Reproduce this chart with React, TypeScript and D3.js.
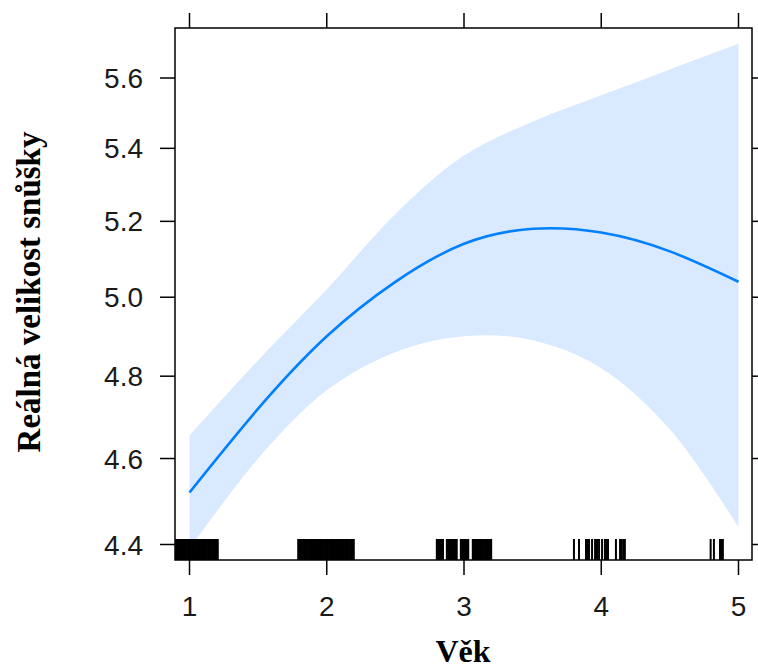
import React, { useEffect, useRef } from "react";
import * as d3 from "d3";

// effect of age on clutch size (fitted curve + confidence band)
const ages = [1, 1.5, 2, 2.5, 3, 3.5, 4, 4.5, 5];
const fit = [4.52, 4.72, 4.9, 5.04, 5.14, 5.18, 5.17, 5.12, 5.04];
const upper = [4.655, 4.84, 5.02, 5.22, 5.38, 5.475, 5.55, 5.625, 5.7];
const lower = [4.39, 4.6, 4.765, 4.86, 4.9, 4.89, 4.82, 4.67, 4.44];

// jittered ages for the rug
const rug1 = [
  0.893, 0.902, 0.911, 0.92, 0.929, 0.938, 0.947, 0.956, 0.965, 0.974, 0.983,
  0.992, 1.001, 1.01, 1.019, 1.028, 1.037, 1.046, 1.055, 1.064, 1.073, 1.082,
  1.091, 1.1, 1.109, 1.118, 1.127, 1.136, 1.145, 1.154, 1.163, 1.172, 1.181,
  1.19, 1.199, 1.206,
];
const rug2 = [
  1.792, 1.801, 1.81, 1.819, 1.828, 1.837, 1.846, 1.855, 1.864, 1.873, 1.882,
  1.891, 1.9, 1.909, 1.918, 1.927, 1.936, 1.945, 1.954, 1.963, 1.972, 1.981,
  1.99, 1.999, 2.008, 2.017, 2.026, 2.035, 2.044, 2.053, 2.062, 2.071, 2.08,
  2.089, 2.098, 2.107, 2.116, 2.125, 2.134, 2.143, 2.152, 2.161, 2.17, 2.179,
  2.188, 2.197,
];
const rug3 = [
  2.802, 2.811, 2.82, 2.829, 2.838, 2.847, 2.875, 2.884, 2.893, 2.902, 2.911,
  2.92, 2.929, 2.938, 2.947, 2.977, 2.986, 2.995, 3.004, 3.013, 3.022, 3.031,
  3.064, 3.073, 3.082, 3.091, 3.1, 3.109, 3.118, 3.127, 3.136, 3.145, 3.154,
  3.163, 3.172, 3.181, 3.19, 3.198,
];
const rug4 = [
  3.801, 3.838, 3.889, 3.9, 3.911, 3.933, 3.955, 3.969, 3.984, 4.006, 4.027,
  4.038, 4.049, 4.107, 4.137, 4.148, 4.16, 4.172,
];
const rug5 = [4.797, 4.821, 4.865, 4.876, 4.886];

const xTicks = [1, 2, 3, 4, 5];
const yTicks = [4.4, 4.6, 4.8, 5.0, 5.2, 5.4, 5.6];

const width = 758;
const height = 671;
const box = { left: 175, right: 752, top: 28, bottom: 560 };

export default function App() {
  const ref = useRef<SVGSVGElement>(null);

  useEffect(() => {
    const svg = d3.select(ref.current);
    svg.selectAll("*").remove();

    const x = d3.scaleLinear().domain([1, 5]).range([189.5, 738.5]);
    const y = d3.scaleLog().domain([4.4, 5.6]).range([544.5, 78]);

    svg
      .append("clipPath")
      .attr("id", "plotclip")
      .append("rect")
      .attr("x", box.left)
      .attr("y", box.top)
      .attr("width", box.right - box.left)
      .attr("height", box.bottom - box.top);

    const g = svg.append("g").attr("clip-path", "url(#plotclip)");

    const band = ages.map((a, i) => ({ a, lo: lower[i], hi: upper[i] }));
    g.append("path")
      .datum(band)
      .attr("fill", "#d9e9ff")
      .attr(
        "d",
        d3
          .area<any>()
          .x((d) => x(d.a))
          .y0((d) => y(d.lo))
          .y1((d) => y(d.hi))
          .curve(d3.curveCatmullRom)
      );

    g.append("path")
      .datum(ages.map((a, i) => [a, fit[i]] as [number, number]))
      .attr("fill", "none")
      .attr("stroke", "#0080ff")
      .attr("stroke-width", 2.6)
      .attr(
        "d",
        d3
          .line()
          .x((d) => x(d[0]))
          .y((d) => y(d[1]))
          .curve(d3.curveNatural)
      );

    const rug = [...rug1, ...rug2, ...rug3, ...rug4, ...rug5];
    g.selectAll("line.rug")
      .data(rug)
      .enter()
      .append("line")
      .attr("class", "rug")
      .attr("x1", (d) => x(d))
      .attr("x2", (d) => x(d))
      .attr("y1", box.bottom - 21)
      .attr("y2", box.bottom)
      .attr("stroke", "#000")
      .attr("stroke-width", 2);

    // box
    svg
      .append("rect")
      .attr("x", box.left)
      .attr("y", box.top)
      .attr("width", box.right - box.left)
      .attr("height", box.bottom - box.top)
      .attr("fill", "none")
      .attr("stroke", "#000")
      .attr("stroke-width", 1.5);

    const tick = 15;
    // x ticks top and bottom
    xTicks.forEach((t) => {
      svg
        .append("line")
        .attr("x1", x(t))
        .attr("x2", x(t))
        .attr("y1", box.bottom)
        .attr("y2", box.bottom + tick)
        .attr("stroke", "#000")
        .attr("stroke-width", 1.5);
      svg
        .append("line")
        .attr("x1", x(t))
        .attr("x2", x(t))
        .attr("y1", box.top)
        .attr("y2", box.top - tick)
        .attr("stroke", "#000")
        .attr("stroke-width", 1.5);
      svg
        .append("text")
        .attr("x", x(t))
        .attr("y", 616)
        .attr("text-anchor", "middle")
        .attr("font-family", "Liberation Sans, Arial, sans-serif")
        .attr("font-size", 28)
        .attr("fill", "#1a1a1a")
        .text(String(t));
    });

    yTicks.forEach((t) => {
      svg
        .append("line")
        .attr("x1", box.left)
        .attr("x2", box.left - tick)
        .attr("y1", y(t))
        .attr("y2", y(t))
        .attr("stroke", "#000")
        .attr("stroke-width", 1.5);
      svg
        .append("line")
        .attr("x1", box.right)
        .attr("x2", box.right + tick)
        .attr("y1", y(t))
        .attr("y2", y(t))
        .attr("stroke", "#000")
        .attr("stroke-width", 1.5);
      svg
        .append("text")
        .attr("x", 143)
        .attr("y", y(t))
        .attr("dy", "0.36em")
        .attr("text-anchor", "end")
        .attr("font-family", "Liberation Sans, Arial, sans-serif")
        .attr("font-size", 28)
        .attr("fill", "#1a1a1a")
        .text(t.toFixed(1));
    });

    svg
      .append("text")
      .attr("x", 463)
      .attr("y", 662)
      .attr("text-anchor", "middle")
      .attr("font-family", "Liberation Serif, Times New Roman, serif")
      .attr("font-weight", "bold")
      .attr("font-size", 32)
      .text("Věk");

    svg
      .append("text")
      .attr("transform", `translate(40, 292) rotate(-90)`)
      .attr("text-anchor", "middle")
      .attr("font-family", "Liberation Serif, Times New Roman, serif")
      .attr("font-weight", "bold")
      .attr("font-size", 33)
      .text("Reálná velikost snůšky");
  }, []);

  return (
    <svg
      ref={ref}
      width={width}
      height={height}
      style={{ position: "absolute", left: 0, top: 0, background: "#fff" }}
    />
  );
}
